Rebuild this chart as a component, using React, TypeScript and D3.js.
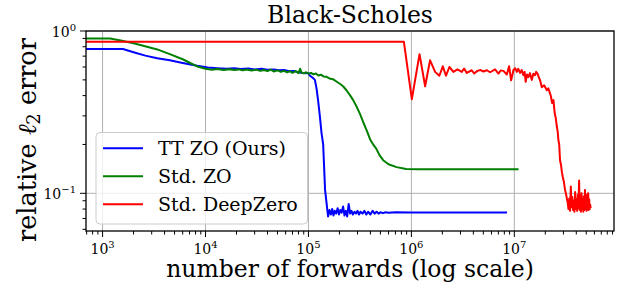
import { useEffect, useRef } from "react";
import * as d3 from "d3";

// [number of forwards, relative l2 error]
const ttZo: [number, number][] = [
  [650, 0.775], [1580, 0.775], [2000, 0.74], [2600, 0.705], [3400, 0.68], [4500, 0.66],
  [6000, 0.635], [8300, 0.61], [10500, 0.595], [13000, 0.59], [16000, 0.585], [19000, 0.589],
  [22000, 0.583], [26000, 0.587], [30000, 0.58], [35000, 0.585], [40000, 0.578], [46000, 0.58],
  [52000, 0.574], [58000, 0.576], [65000, 0.566], [72000, 0.568], [80000, 0.557], [88000, 0.552],
  [100000, 0.55], [103500, 0.53], [110000, 0.515], [115600, 0.5], [120000, 0.44], [124000, 0.375],
  [129000, 0.3], [134000, 0.235], [139000, 0.2], [145000, 0.105], [150000, 0.087], [155000, 0.072],
  [160000, 0.079], [165000, 0.074], [170000, 0.08], [175000, 0.073], [180000, 0.078], [186000, 0.075],
  [192000, 0.081], [198000, 0.074], [204000, 0.079], [210000, 0.076], [217000, 0.083], [224000, 0.073],
  [231000, 0.078], [238000, 0.072], [246000, 0.086], [254000, 0.075], [262000, 0.078], [270000, 0.074],
  [280000, 0.077], [290000, 0.075], [300000, 0.078], [310000, 0.074], [320000, 0.077], [335000, 0.075],
  [350000, 0.078], [365000, 0.074], [380000, 0.077], [400000, 0.074], [420000, 0.078], [440000, 0.075],
  [460000, 0.077], [480000, 0.075], [500000, 0.0765], [530000, 0.0755], [560000, 0.0765], [600000, 0.076],
  [700000, 0.0765], [1000000, 0.0763], [2000000, 0.0762], [5000000, 0.0762], [8500000, 0.0762],
];

const stdZo: [number, number][] = [
  [650, 0.9], [1180, 0.9], [1500, 0.875], [2000, 0.84], [2700, 0.8], [3400, 0.77], [4500, 0.72],
  [6000, 0.67], [7100, 0.635], [8300, 0.605], [10000, 0.585], [11500, 0.578], [13000, 0.583],
  [15000, 0.576], [17000, 0.582], [19000, 0.575], [21000, 0.58], [23000, 0.572], [25000, 0.579],
  [28000, 0.571], [31000, 0.578], [34000, 0.568], [37000, 0.575], [40000, 0.566], [43000, 0.578],
  [46000, 0.563], [50000, 0.572], [54000, 0.56], [58000, 0.568], [62000, 0.556], [66000, 0.565],
  [70000, 0.553], [75000, 0.566], [80000, 0.55], [83000, 0.585], [86000, 0.552], [90000, 0.548],
  [95000, 0.557], [100000, 0.545], [106000, 0.552], [112000, 0.54], [118000, 0.547], [125000, 0.532],
  [132000, 0.538], [140000, 0.525], [150000, 0.522], [160000, 0.51], [173000, 0.505], [190000, 0.485],
  [205000, 0.47], [218000, 0.455], [235000, 0.43], [255000, 0.4], [272000, 0.375], [295000, 0.34],
  [316000, 0.31], [340000, 0.275], [367000, 0.245], [400000, 0.213], [430000, 0.198], [457000, 0.188],
  [490000, 0.172], [532000, 0.16], [600000, 0.151], [718000, 0.145], [890000, 0.141], [1200000, 0.1405],
  [3000000, 0.1405], [11000000, 0.1405],
];

const stdDeepZero: [number, number][] = [
  [650, 0.86], [845000, 0.86], [1010000, 0.38], [1200000, 0.72], [1360000, 0.457], [1520000, 0.66],
  [1700000, 0.56], [1870000, 0.53], [2020000, 0.606], [2170000, 0.53], [2340000, 0.6], [2560000, 0.56],
  [2800000, 0.58], [3090000, 0.56], [3250000, 0.587], [3450000, 0.552], [3860000, 0.573], [4070000, 0.547],
  [4380000, 0.568], [4700000, 0.575], [5010000, 0.563], [5410000, 0.573], [5820000, 0.557], [6500000, 0.58],
  [7010000, 0.547], [7400000, 0.572], [7840000, 0.568], [8460000, 0.54], [8900000, 0.606], [9310000, 0.497],
  [9800000, 0.573], [10200000, 0.59], [10570000, 0.56], [10900000, 0.585], [11380000, 0.552],
  [11800000, 0.575], [12250000, 0.534], [12600000, 0.56], [12900000, 0.486], [13300000, 0.54],
  [13700000, 0.52], [14200000, 0.55], [14800000, 0.5], [15300000, 0.545], [15900000, 0.534],
  [16300000, 0.56], [16800000, 0.547], [17300000, 0.52], [17800000, 0.497], [18500000, 0.45],
  [19500000, 0.463], [20700000, 0.432], [21400000, 0.444], [22600000, 0.4], [23300000, 0.36],
  [24000000, 0.375], [24700000, 0.31], [25300000, 0.29], [25900000, 0.257], [26400000, 0.24],
  [26800000, 0.213], [27300000, 0.2], [27800000, 0.16], [28400000, 0.15], [29000000, 0.135],
  [29500000, 0.127], [30300000, 0.118], [31100000, 0.105], [31900000, 0.098], [32700000, 0.09],
  [33000000, 0.088], [33600000, 0.08], [34200000, 0.093], [34800000, 0.078], [35400000, 0.11],
  [36000000, 0.082], [36600000, 0.095], [37200000, 0.079], [37800000, 0.09], [38400000, 0.077],
  [39000000, 0.102], [39600000, 0.08], [40200000, 0.092], [40800000, 0.078], [41400000, 0.098],
  [42000000, 0.081], [42600000, 0.12], [43200000, 0.079], [43800000, 0.094], [44400000, 0.077],
  [45000000, 0.1], [45600000, 0.08], [46200000, 0.088], [46800000, 0.077], [47400000, 0.096],
  [48000000, 0.079], [48600000, 0.105], [49200000, 0.08], [49800000, 0.09], [50400000, 0.078],
  [51000000, 0.098], [51600000, 0.08], [52200000, 0.1], [52800000, 0.079], [53400000, 0.092],
  [54000000, 0.08], [54600000, 0.085], [55200000, 0.081],
];

const seriesNames = ["TT ZO (Ours)", "Std. ZO", "Std. DeepZero"];
const seriesColors = ["#0000ff", "#008000", "#ff0000"];
const seriesData = [ttZo, stdZo, stdDeepZero];

const xTicks = [1e3, 1e4, 1e5, 1e6, 1e7];
const xTickExps = ["3", "4", "5", "6", "7"];
const yTicks = [0.1, 1];
const yTickExps = ["\u22121", "0"];

const FONT = "DejaVu Serif, serif";

function ErrorChart() {
  const ref = useRef<SVGSVGElement>(null);

  useEffect(() => {
    if (!ref.current) return;
    const width = 619;
    const height = 288;
    const margin = { top: 31, right: 5, bottom: 57, left: 86 };
    const svg = d3.select(ref.current);
    svg.selectAll("*").remove();

    const x = d3.scaleLog().domain([690, 9.3e7]).range([margin.left, width - margin.right]);
    const y = d3.scaleLog().domain([0.0586, 1]).range([height - margin.bottom, margin.top]);
    const [x0, x1] = x.range();
    const [y0, y1] = y.range();

    svg.append("defs").append("clipPath").attr("id", "plot-clip")
      .append("rect").attr("x", x0).attr("y", y1).attr("width", x1 - x0).attr("height", y0 - y1);

    // grid
    const grid = svg.append("g").attr("stroke", "#b0b0b0").attr("stroke-width", 1);
    grid.selectAll("line.gx").data(xTicks).join("line")
      .attr("x1", (d) => x(d)).attr("x2", (d) => x(d)).attr("y1", y1).attr("y2", y0);
    grid.selectAll("line.gy").data(yTicks).join("line")
      .attr("x1", x0).attr("x2", x1).attr("y1", (d) => y(d)).attr("y2", (d) => y(d));

    // lines
    const line = d3.line<[number, number]>().x((d) => x(d[0])).y((d) => y(d[1]));
    svg.append("g").attr("clip-path", "url(#plot-clip)")
      .selectAll("path").data(seriesData).join("path")
      .attr("d", (d) => line(d))
      .attr("fill", "none")
      .attr("stroke", (_d, i) => seriesColors[i])
      .attr("stroke-width", 2)
      .attr("stroke-linejoin", "round");

    // minor ticks
    const xMinor: number[] = [];
    for (let e = 2; e <= 7; e++) {
      for (let m = 2; m <= 9; m++) {
        const v = m * Math.pow(10, e);
        if (v > 690 && v < 9.3e7) xMinor.push(v);
      }
    }
    const yMinor = [0.06, 0.07, 0.08, 0.09, 0.2, 0.3, 0.4, 0.5, 0.6, 0.7, 0.8, 0.9];
    const ticks = svg.append("g").attr("stroke", "#000").attr("stroke-width", 1);
    ticks.selectAll("line.xm").data(xMinor).join("line")
      .attr("x1", (d) => x(d)).attr("x2", (d) => x(d)).attr("y1", y0).attr("y2", y0 + 3.5);
    ticks.selectAll("line.xM").data(xTicks).join("line")
      .attr("x1", (d) => x(d)).attr("x2", (d) => x(d)).attr("y1", y0).attr("y2", y0 + 6);
    ticks.selectAll("line.ym").data(yMinor).join("line")
      .attr("x1", x0 - 3.5).attr("x2", x0).attr("y1", (d) => y(d)).attr("y2", (d) => y(d));
    ticks.selectAll("line.yM").data(yTicks).join("line")
      .attr("x1", x0 - 6).attr("x2", x0).attr("y1", (d) => y(d)).attr("y2", (d) => y(d));

    // spines
    svg.append("rect")
      .attr("x", x0).attr("y", y1).attr("width", x1 - x0).attr("height", y0 - y1)
      .attr("fill", "none").attr("stroke", "#000").attr("stroke-width", 1.3);

    // tick labels
    const xl = svg.append("g").selectAll("text").data(xTicks).join("text")
      .attr("x", (d) => x(d)).attr("y", 253.5)
      .attr("text-anchor", "middle")
      .style("font-family", FONT).style("font-size", "14px");
    xl.append("tspan").text("10");
    xl.append("tspan").attr("dy", -6).style("font-size", "10px").text((_d, i) => xTickExps[i]);

    const yl = svg.append("g").selectAll("text").data(yTicks).join("text")
      .attr("x", x0 - 10).attr("y", (d) => y(d) + 6)
      .attr("text-anchor", "end")
      .style("font-family", FONT).style("font-size", "14px");
    yl.append("tspan").text("10");
    yl.append("tspan").attr("dy", -6).style("font-size", "10px").text((_d, i) => yTickExps[i]);

    // title and labels
    svg.append("text").attr("x", (x0 + x1) / 2).attr("y", 22.5)
      .attr("text-anchor", "middle").style("font-family", FONT).style("font-size", "23.5px")
      .text("Black-Scholes");
    svg.append("text").attr("x", (x0 + x1) / 2).attr("y", 277)
      .attr("text-anchor", "middle").style("font-family", FONT).style("font-size", "23.5px")
      .text("number of forwards (log scale)");
    const ylab = svg.append("text")
      .attr("transform", `translate(36, 140) rotate(-90)`)
      .attr("text-anchor", "middle").style("font-family", FONT).style("font-size", "25.5px");
    ylab.append("tspan").text("relative ");
    ylab.append("tspan").style("font-style", "italic").text("\u2113");
    ylab.append("tspan").attr("dy", 4).style("font-size", "18px").text("2");
    ylab.append("tspan").attr("dy", -4).text(" error");

    // legend
    const lg = svg.append("g");
    lg.append("rect")
      .attr("x", 96).attr("y", 132.5).attr("width", 211.5).attr("height", 91.5).attr("rx", 4)
      .attr("fill", "#fff").attr("fill-opacity", 0.8).attr("stroke", "#cccccc");
    const rows = lg.selectAll("g").data(seriesNames).join("g")
      .attr("transform", (_d, i) => `translate(0, ${148.3 + i * 28})`);
    rows.append("line").attr("x1", 103).attr("x2", 143).attr("y1", 0).attr("y2", 0)
      .attr("stroke", (_d, i) => seriesColors[i]).attr("stroke-width", 2);
    rows.append("text").attr("x", 158).attr("y", 7)
      .style("font-family", FONT).style("font-size", "19px")
      .text((d) => d);
  }, []);

  return <svg ref={ref} width={619} height={288} style={{ position: "absolute", left: 0, top: 0 }} />;
}

export default function App() {
  return <ErrorChart />;
}
